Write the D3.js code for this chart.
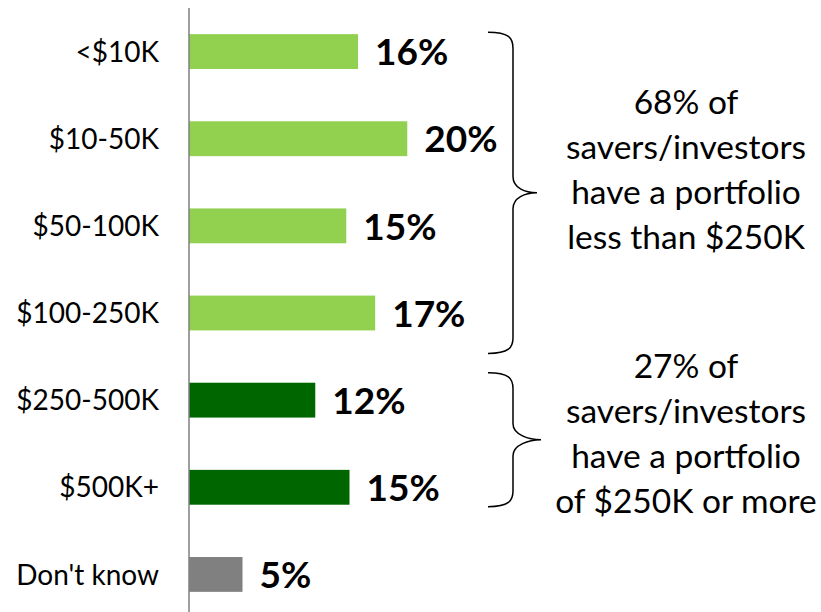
<!DOCTYPE html>
<html>
<head>
<meta charset="utf-8">
<script src="https://cdn.jsdelivr.net/npm/d3@7"></script>
<style>
  html, body { margin: 0; padding: 0; background: #fff; }
  svg { display: block; }
  text { font-family: Lato, "Open Sans", "Liberation Sans", sans-serif; }
</style>
</head>
<body>
<svg id="chart" width="821" height="612"></svg>
<script>
// ---- data ----
const categories = ["<$10K", "$10-50K", "$50-100K", "$100-250K", "$250-500K", "$500K+", "Don't know"];
const values = [15.8, 20.4, 14.7, 17.4, 11.8, 15.0, 5.0];
const valueLabels = ["16%", "20%", "15%", "17%", "12%", "15%", "5%"];
const groups = ["low", "low", "low", "low", "high", "high", "unknown"];
const groupColors = { low: "#92D050", high: "#006600", unknown: "#808080" };
const note1 = ["68% of", "savers/investors", "have a portfolio", "less than $250K"];
const note2 = ["27% of", "savers/investors", "have a portfolio", "of $250K or more"];

// ---- layout ----
const W = 821, H = 612;
const axisX = 189;
const svg = d3.select("#chart");

const y = d3.scaleBand()
  .domain(categories)
  .range([8, 618])
  .paddingInner(0.6)
  .paddingOuter(0.3);

const x = d3.scaleLinear().domain([0, 50]).range([axisX, axisX + 535]);

// bars
svg.append("g").selectAll("rect")
  .data(categories)
  .join("rect")
  .attr("x", x(0))
  .attr("y", d => y(d))
  .attr("width", (d, i) => x(values[i]) - x(0))
  .attr("height", y.bandwidth())
  .attr("fill", (d, i) => groupColors[groups[i]]);

// axis line
svg.append("line")
  .attr("x1", axisX).attr("x2", axisX)
  .attr("y1", 8).attr("y2", H)
  .attr("stroke", "#7f7f7f").attr("stroke-width", 1.5);

// category labels
svg.append("g").selectAll("text")
  .data(categories)
  .join("text")
  .attr("x", 159)
  .attr("y", d => y(d) + y.bandwidth() / 2)
  .attr("dy", "0.36em")
  .attr("text-anchor", "end")
  .attr("font-size", 28)
  .attr("fill", "#000")
  .text(d => d);

// value labels
svg.append("g").selectAll("text")
  .data(categories)
  .join("text")
  .attr("x", (d, i) => x(values[i]) + 17)
  .attr("y", d => y(d) + y.bandwidth() / 2)
  .attr("dy", "0.37em")
  .attr("font-size", 37)
  .attr("font-weight", "bold")
  .attr("fill", "#000")
  .text((d, i) => valueLabels[i]);

// braces
function bracePath(xEnd, xMid, xTip, top, bottom) {
  const mid = (top + bottom) / 2;
  const r = 16;
  return `M${xEnd},${top}` +
    ` C${xMid - 4},${top} ${xMid},${top + 6} ${xMid},${top + r}` +
    ` L${xMid},${mid - r}` +
    ` C${xMid},${mid - 5} ${xTip - 12},${mid} ${xTip},${mid}` +
    ` C${xTip - 12},${mid} ${xMid},${mid + 5} ${xMid},${mid + r}` +
    ` L${xMid},${bottom - r}` +
    ` C${xMid},${bottom - 6} ${xMid - 4},${bottom} ${xEnd},${bottom}`;
}
const bw = y.bandwidth();
const brace1 = { top: y(categories[0]) - 2, bottom: y(categories[3]) + bw + 23 };
const brace2 = { top: y(categories[4]) - 10, bottom: y(categories[5]) + bw + 2 };
[[brace1, 537], [brace2, 541]].forEach(([b, tip]) => {
  svg.append("path")
    .attr("d", bracePath(488, 513, tip, b.top, b.bottom))
    .attr("fill", "none")
    .attr("stroke", "#000")
    .attr("stroke-width", 1.5);
});

// notes
function note(lines, baseline0) {
  const t = svg.append("text")
    .attr("text-anchor", "middle")
    .attr("font-size", 33.5)
    .attr("fill", "#000");
  lines.forEach((l, i) => {
    t.append("tspan").attr("x", 686).attr("y", baseline0 + i * 45).text(l);
  });
}
note(note1, 114);
note(note2, 378);
</script>
</body>
</html>
